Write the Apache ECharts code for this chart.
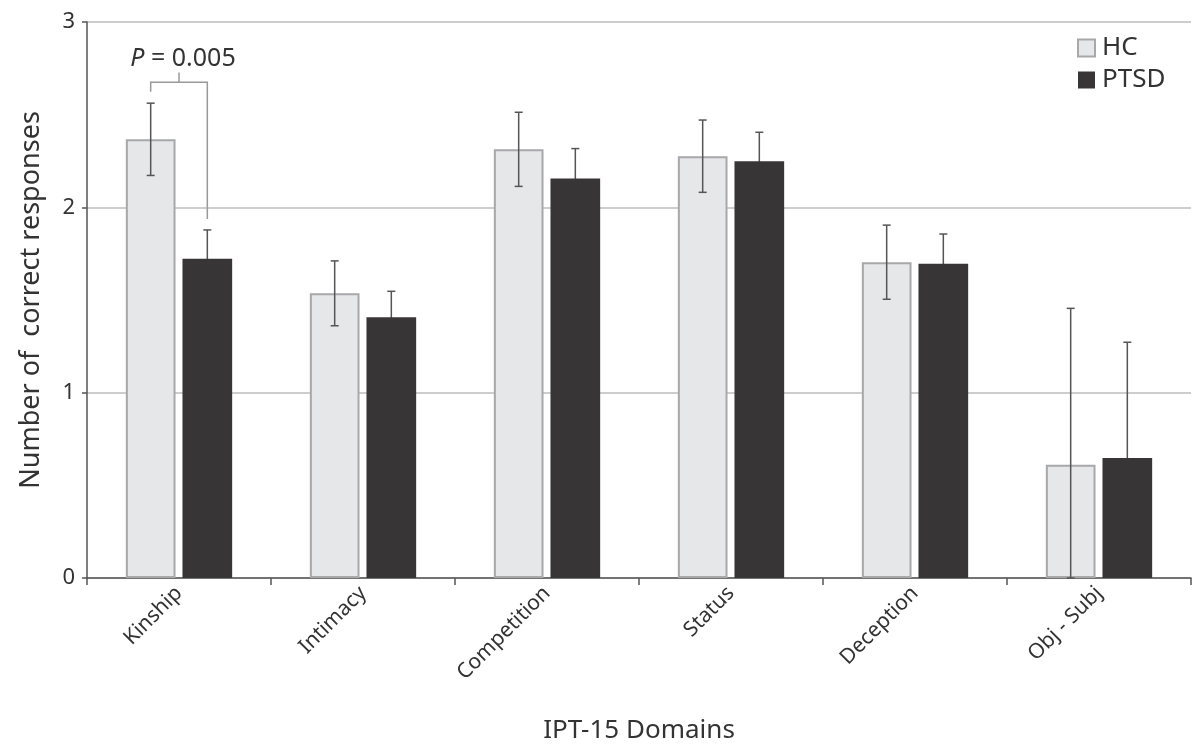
<!DOCTYPE html>
<html>
<head>
<meta charset="utf-8">
<script src="https://cdn.jsdelivr.net/npm/echarts@6/dist/echarts.min.js"></script>
<style>
html,body{margin:0;padding:0;background:#fff;}
#chart{width:1195px;height:751px;}
</style>
</head>
<body>
<div id="chart"></div>
<script>
// 数据
var domains = ['Kinship', 'Intimacy', 'Competition', 'Status', 'Deception', 'Obj - Subj'];
var hcMean = [2.367, 1.536, 2.313, 2.276, 1.704, 0.611];
var hcErr = [0.195, 0.175, 0.200, 0.195, 0.200, 0.844];
var ptsdMean = [1.723, 1.407, 2.155, 2.249, 1.695, 0.648];
var ptsdErr = [0.155, 0.140, 0.162, 0.156, 0.161, 0.624];
var yTicks = [0, 1, 2, 3];

var FONT = 'Noto Sans';
var BAR_W = 0.27, BAR_GAP = 0.14;

// 误差线数据 [类别, 下限, 上限]
function errData(mean, err){
	var out = [];
	for(var i = 0; i < mean.length; i++){
		out.push([i, Math.max(0, mean[i] - err[i]), mean[i] + err[i]]);
	}
	return out;
}

function errRender(side){
	return function(params, api){
		var band = api.size([1, 0])[0];
		var off = side * band * BAR_W * (1 + BAR_GAP) / 2;
		var lo = api.coord([api.value(0), api.value(1)]);
		var hi = api.coord([api.value(0), api.value(2)]);
		var x = lo[0] + off;
		var cap = 4;
		var style = {stroke: '#555', lineWidth: 1.5};
		return {
			type: 'group',
			children: [
				{type: 'line', shape: {x1: x, y1: lo[1], x2: x, y2: hi[1]}, style: style},
				{type: 'line', shape: {x1: x - cap, y1: hi[1], x2: x + cap, y2: hi[1]}, style: style},
				{type: 'line', shape: {x1: x - cap, y1: lo[1], x2: x + cap, y2: lo[1]}, style: style}
			]
		};
	};
}

// 显著性括号
function bracketRender(params, api){
	var band = api.size([1, 0])[0];
	var off = band * BAR_W * (1 + BAR_GAP) / 2;
	var c = api.value(0);
	var top = api.coord([c, 2.675]);
	var l = api.coord([c, 2.624]);
	var r = api.coord([c, 1.937]);
	var t = api.coord([c, 2.728]);
	var xl = top[0] - off, xr = top[0] + off;
	var style = {stroke: '#999', lineWidth: 1.5, fill: null};
	return {
		type: 'group',
		children: [
			{type: 'polyline', shape: {points: [[xl, l[1]], [xl, top[1]], [xr, top[1]], [xr, r[1]]]}, style: style},
			{type: 'line', shape: {x1: top[0], y1: top[1], x2: top[0], y2: t[1]}, style: style},
			{type: 'text', x: top[0] + 4, y: t[1] - 1, style: {
				text: '{i|P} = 0.005',
				rich: {i: {fontStyle: 'italic', fontSize: 25, fontFamily: FONT, fill: '#333'}},
				fontSize: 25, fontFamily: FONT, fill: '#333',
				align: 'center', verticalAlign: 'bottom'
			}}
		]
	};
}

var myChart = echarts.init(document.getElementById('chart'));
var option = {
	backgroundColor: '#fff',
	animation: false,
	grid: {left: 87, right: 4, top: 22, bottom: 173, containLabel: false},
	legend: {
		orient: 'vertical',
		left: 1072,
		top: 30,
		itemWidth: 17,
		itemHeight: 17,
		itemGap: 6,
		textStyle: {fontSize: 26, fontFamily: FONT, color: '#333', padding: [0, 0, 0, 2]},
		data: [
			{name: 'HC', icon: 'rect', itemStyle: {color: '#e6e7e9', borderColor: '#a8a8aa', borderWidth: 2}},
			{name: 'PTSD', icon: 'rect', itemStyle: {color: '#383536', borderWidth: 0}}
		]
	},
	xAxis: {
		type: 'category',
		data: domains,
		name: 'IPT-15 Domains',
		nameLocation: 'middle',
		nameGap: 140,
		nameTextStyle: {fontSize: 26, fontFamily: FONT, color: '#333'},
		axisLine: {lineStyle: {color: '#555', width: 1.5}},
		axisTick: {show: true, alignWithLabel: false, length: 7, lineStyle: {color: '#555', width: 1.5}},
		axisLabel: {rotate: 45, fontSize: 21, fontFamily: FONT, color: '#333', margin: 12}
	},
	yAxis: {
		type: 'value',
		min: yTicks[0],
		max: yTicks[yTicks.length - 1],
		interval: 1,
		name: 'Number of  correct responses',
		nameLocation: 'middle',
		nameGap: 42,
		nameTextStyle: {fontSize: 27, fontFamily: FONT, color: '#333'},
		axisLine: {show: true, lineStyle: {color: '#555', width: 1.5}},
		axisTick: {show: true, length: 5, lineStyle: {color: '#555', width: 1.5}},
		axisLabel: {fontSize: 22, fontFamily: FONT, color: '#333', margin: 12},
		splitLine: {lineStyle: {color: '#bdbdbd', width: 1.5}}
	},
	series: [
		{
			name: 'PTSD-err',
			type: 'custom',
			renderItem: errRender(1),
			data: errData(ptsdMean, ptsdErr),
			z: 1,
			silent: true
		},
		{
			name: 'HC',
			type: 'bar',
			data: hcMean,
			barWidth: (BAR_W * 100) + '%',
			barGap: (BAR_GAP * 100) + '%',
			itemStyle: {color: '#e6e7e9', borderColor: '#a8a8aa', borderWidth: 2},
			z: 2
		},
		{
			name: 'PTSD',
			type: 'bar',
			data: ptsdMean,
			barWidth: (BAR_W * 100) + '%',
			itemStyle: {color: '#383536'},
			z: 2
		},
		{
			name: 'HC-err',
			type: 'custom',
			renderItem: errRender(-1),
			data: errData(hcMean, hcErr),
			z: 3,
			silent: true
		},
		{
			name: 'bracket',
			type: 'custom',
			renderItem: bracketRender,
			data: [[0]],
			z: 3,
			silent: true
		}
	]
};
myChart.setOption(option);
</script>
</body>
</html>
